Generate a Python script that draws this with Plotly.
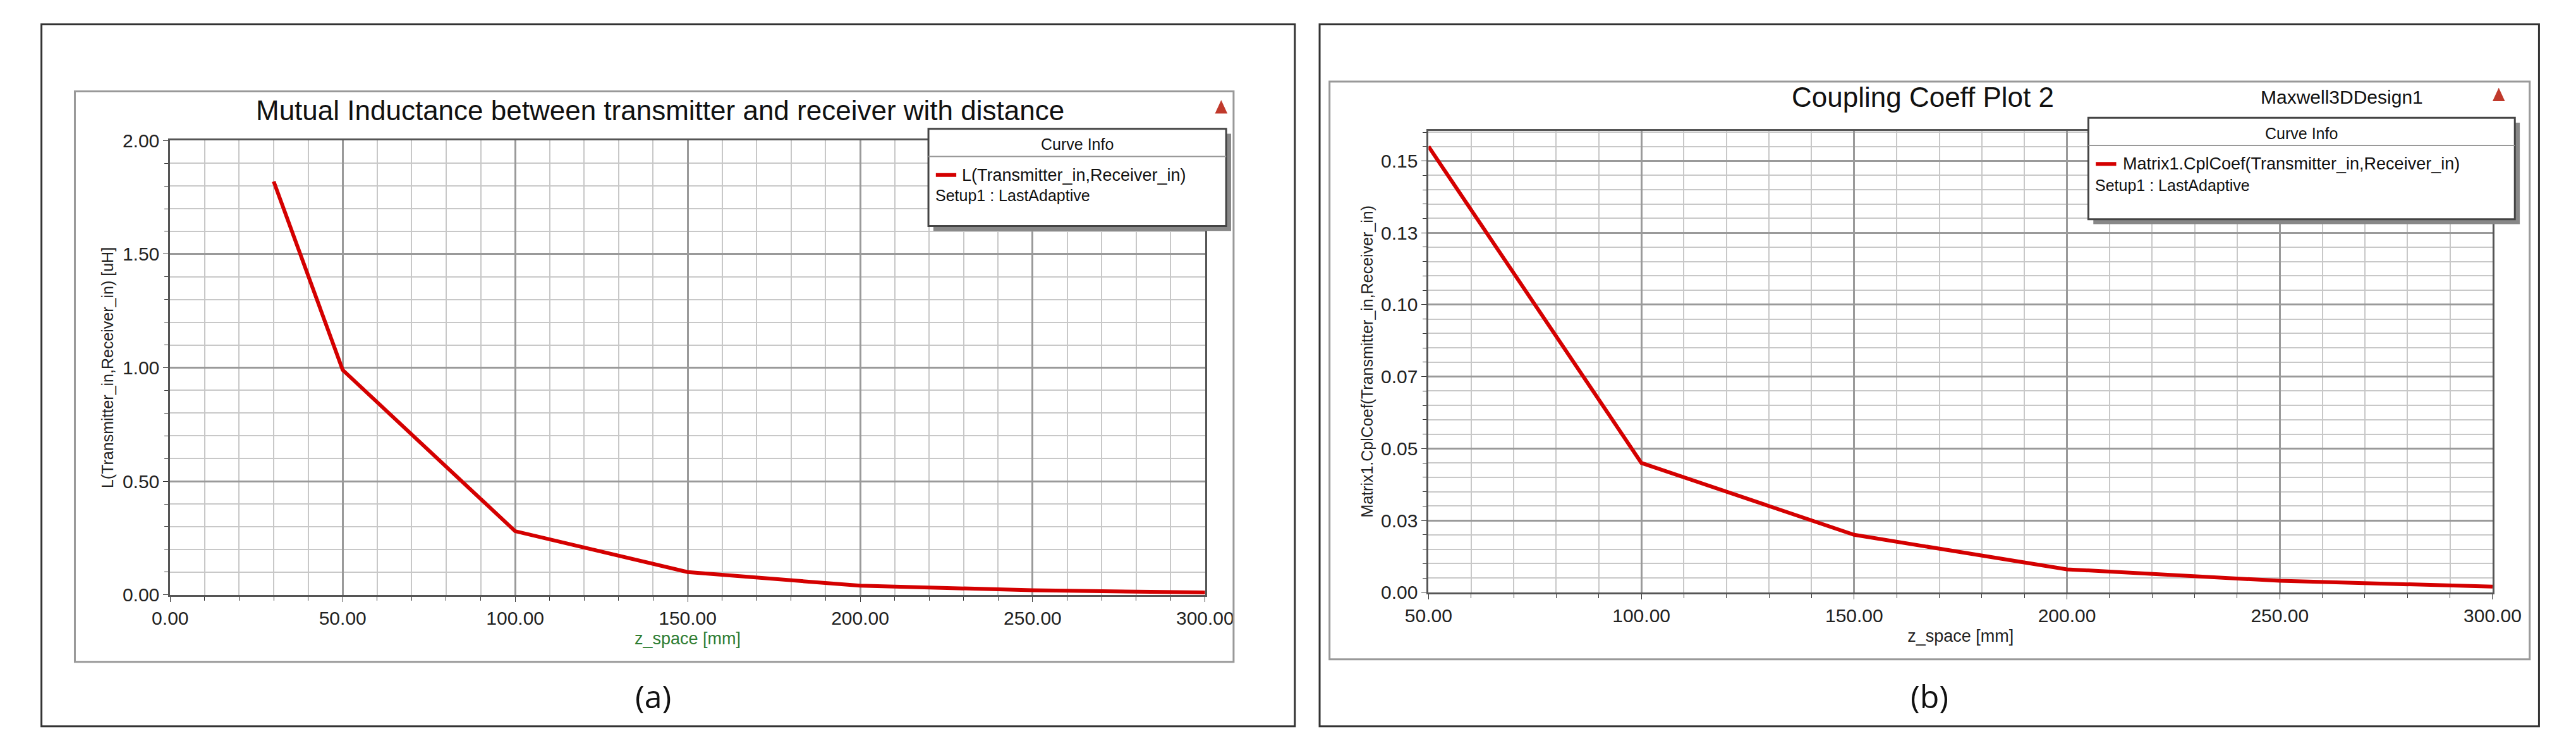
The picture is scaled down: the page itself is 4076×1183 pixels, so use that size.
import plotly.graph_objects as go

W, H = 4076, 1183
# Panel (a) data
za = [30, 50, 100, 150, 200, 250, 300]
La = [1.82, 0.99, 0.28, 0.10, 0.04, 0.02, 0.01]
xticks_a = [0, 50, 100, 150, 200, 250, 300]
yticks_a = [0, 0.5, 1.0, 1.5, 2.0]
# Panel (b) data
zb = [50, 100, 150, 200, 250, 300]
kb = [0.155, 0.045, 0.020, 0.008, 0.004, 0.002]
xticks_b = [50, 100, 150, 200, 250, 300]
yticks_b = [0, 0.025, 0.05, 0.075, 0.1, 0.125, 0.15]
yticklabels_b = ["0.00", "0.03", "0.05", "0.07", "0.10", "0.13", "0.15"]

FONT = "Liberation Sans Narrow, Liberation Sans, Arial, sans-serif"
RED = "#d40000"

def px(x): return x / W
def py(y): return 1 - y / H

fig = go.Figure()
fig.add_trace(go.Scatter(x=za, y=La, mode="lines", line=dict(color=RED, width=6),
                         xaxis="x", yaxis="y", showlegend=False))
fig.add_trace(go.Scatter(x=zb, y=kb, mode="lines", line=dict(color=RED, width=6),
                         xaxis="x2", yaxis="y2", showlegend=False))

common = dict(showline=True, linecolor="#555", linewidth=3, mirror=True, ticks="outside",
              tickcolor="#333", ticklen=8, gridcolor="#9a9a9a", gridwidth=3, zeroline=False,
              tickfont=dict(family=FONT, size=30, color="#222"))
minor_x = dict(dtick=10, showgrid=True, gridcolor="#c8c8c8", gridwidth=2, ticks="outside", ticklen=6, tickcolor="#333")

fig.update_layout(
    width=W, height=H, margin=dict(l=0, r=0, t=0, b=0),
    paper_bgcolor="white", plot_bgcolor="white",
    xaxis=dict(domain=[px(228), px(1900)], anchor="y", range=[0, 300], tickvals=xticks_a,
               ticktext=[f"{v:.2f}" for v in xticks_a], minor=minor_x,
               title=dict(text="z_space [mm]", font=dict(family=FONT, size=27, color="#2e7d32"), standoff=8), **common),
    yaxis=dict(domain=[py(943), py(204)], anchor="x", range=[0, 2.0], tickvals=yticks_a,
               ticktext=[f"{v:.2f}" for v in yticks_a],
               minor=dict(dtick=0.1, showgrid=True, gridcolor="#c8c8c8", gridwidth=2, ticks="outside", ticklen=6, tickcolor="#333"),
               title=dict(text="L(Transmitter_in,Receiver_in) [uH]", font=dict(family=FONT, size=25, color="#222"), standoff=8), **common),
    xaxis2=dict(domain=[px(2261), px(3980)], anchor="y2", range=[50, 300], tickvals=xticks_b,
                ticktext=[f"{v:.2f}" for v in xticks_b], minor=minor_x,
                title=dict(text="z_space [mm]", font=dict(family=FONT, size=27, color="#222"), standoff=8), **common),
    yaxis2=dict(domain=[py(939), py(188)], anchor="x2", range=[0, 0.1605], tickvals=yticks_b,
                ticktext=yticklabels_b,
                minor=dict(dtick=0.005, showgrid=True, gridcolor="#c8c8c8", gridwidth=2, ticks="outside", ticklen=6, tickcolor="#333"),
                title=dict(text="Matrix1.CplCoef(Transmitter_in,Receiver_in)", font=dict(family=FONT, size=25, color="#222"), standoff=6), **common),
)

shapes = []
shapes.append(dict(type="rect", xref="paper", yref="paper", x0=px(20), x1=px(2045), y0=py(1157), y1=py(15),
                   line=dict(color="#333", width=3)))
shapes.append(dict(type="rect", xref="paper", yref="paper", x0=px(2085), x1=px(4055), y0=py(1157), y1=py(15),
                   line=dict(color="#333", width=3)))
shapes.append(dict(type="rect", xref="paper", yref="paper", x0=px(74), x1=px(1946), y0=py(1052), y1=py(124),
                   line=dict(color="#999", width=3)))
shapes.append(dict(type="rect", xref="paper", yref="paper", x0=px(2101), x1=px(4040), y0=py(1048), y1=py(108),
                   line=dict(color="#999", width=3)))
for (x0, x1, y0, y1) in [(1453, 1934, 185, 343), (3327, 4016, 167, 332)]:
    shapes.append(dict(type="rect", xref="paper", yref="paper", x0=px(x0 + 8), x1=px(x1 + 8), y0=py(y1 + 8), y1=py(y0 + 8),
                       line=dict(width=0), fillcolor="#888"))
    shapes.append(dict(type="rect", xref="paper", yref="paper", x0=px(x0), x1=px(x1), y0=py(y1), y1=py(y0),
                       line=dict(color="#444", width=3), fillcolor="white"))
    shapes.append(dict(type="line", xref="paper", yref="paper", x0=px(x0), x1=px(x1), y0=py(y0 + 45), y1=py(y0 + 45),
                       line=dict(color="#999", width=2)))
    shapes.append(dict(type="line", xref="paper", yref="paper", x0=px(x0 + 12), x1=px(x0 + 45), y0=py(y0 + 75), y1=py(y0 + 75),
                       line=dict(color=RED, width=6)))
for (cx, cy) in [(1926, 150), (3990, 130)]:
    shapes.append(dict(type="path", xref="paper", yref="paper",
                       path=f"M {px(cx-10)} {py(cy+10)} L {px(cx+10)} {py(cy+10)} L {px(cx)} {py(cy-12)} Z",
                       fillcolor="#c0392b", line=dict(width=0)))
fig.update_layout(shapes=shapes)

ann = []
def text(x, y, s, size, anchor="center", color="#111", font=FONT):
    ann.append(dict(xref="paper", yref="paper", x=px(x), y=py(y), text=s, showarrow=False,
                    xanchor=anchor, yanchor="middle", font=dict(family=font, size=size, color=color)))
text(1020, 155, "Mutual Inductance between transmitter and receiver with distance", 44)
text(3060, 133, "Coupling Coeff Plot 2", 44)
text(3870, 133, "Maxwell3DDesign1", 30, anchor="right")
text(1693, 210, "Curve Info", 25)
text(1505, 260, "L(Transmitter_in,Receiver_in)", 27, anchor="left")
text(1462, 293, "Setup1 : LastAdaptive", 25, anchor="left")
text(3671, 192, "Curve Info", 25)
text(3381, 242, "Matrix1.CplCoef(Transmitter_in,Receiver_in)", 27, anchor="left")
text(3336, 277, "Setup1 : LastAdaptive", 25, anchor="left")
text(1008, 1108, "(a)", 50, font="Open Sans, DejaVu Sans, sans-serif")
text(3070, 1108, "(b)", 50, font="Open Sans, DejaVu Sans, sans-serif")
fig.update_layout(annotations=ann)

fig.write_html("out.html")
